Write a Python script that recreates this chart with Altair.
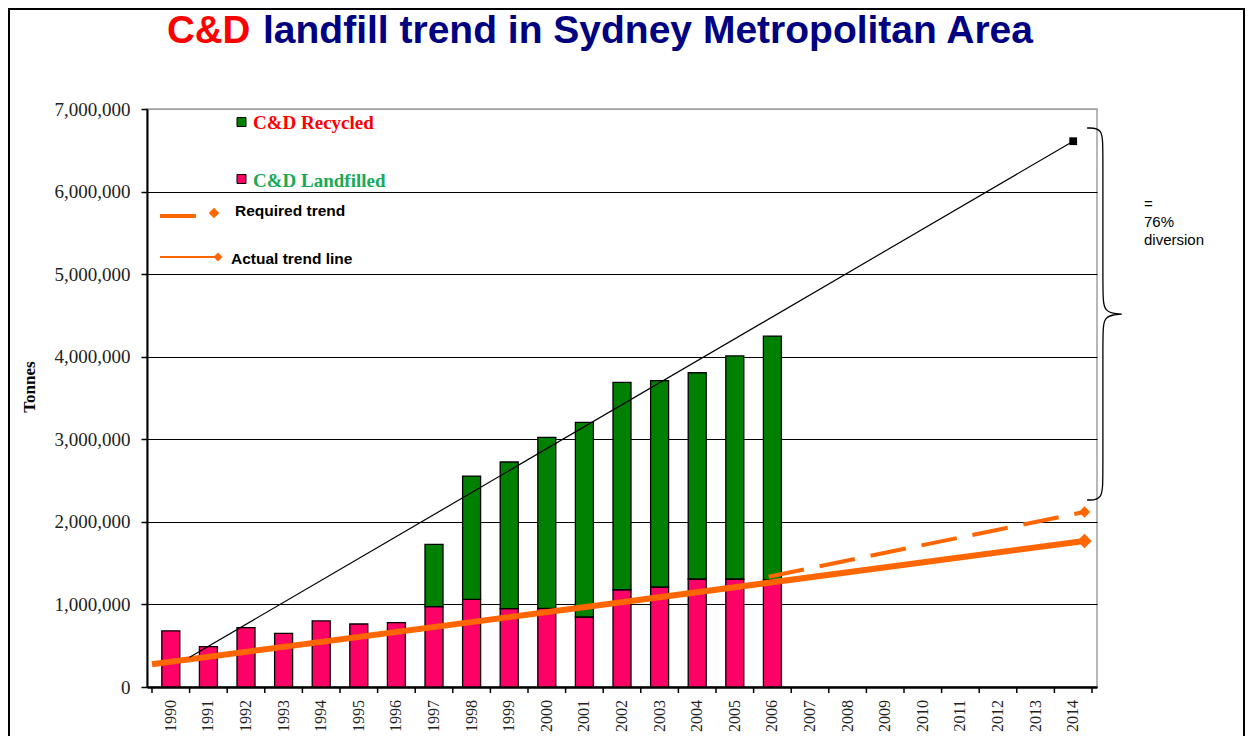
import altair as alt
import pandas as pd

# ---------------- data ----------------
years = list(range(1990, 2015))
bar_years = list(range(1990, 2007))
landfilled = [680000, 490000, 718000, 650000, 800000, 763000, 779000, 973000,
              1062000, 948000, 953000, 848000, 1178000, 1211000, 1308000,
              1308000, 1296000]
recycled = [0, 0, 0, 0, 0, 0, 0, 755000, 1493000, 1777000, 2071000, 2358000,
            2512000, 2499000, 2498000, 2701000, 2954000]

total_line_x = [1990.5, 2014.0]
total_line_y = [360000, 6610000]
actual_x = [1989.5, 2014.3]
actual_y = [275000, 1768000]
required_x = [2005.9, 2014.3]
required_y = [1336000, 2120000]

brace_x = [2014.37, 2014.79, 2014.79, 2014.79, 2014.79, 2015.29, 2015.29, 2015.29,
           2014.79, 2014.79, 2014.79, 2014.79, 2014.37]
brace_y = [6770000, 6770000, 6500000, 4800000, 4530000, 4517000, 4517000, 4517000,
           4500000, 4250000, 2550000, 2265000, 2265000]

y_ticks = [0, 1000000, 2000000, 3000000, 4000000, 5000000, 6000000, 7000000]
boundaries = [y - 0.5 for y in years] + [2014.5]

ORANGE = "#FF6600"
PINK = "#FF0066"
GREEN = "#008000"

bars = pd.DataFrame({"year": bar_years, "landfilled": landfilled, "recycled": recycled})
bars["total"] = bars["landfilled"] + bars["recycled"]

xs = alt.Scale(domain=[1989.5, 2014.5], nice=False, zero=False)
ys = alt.Scale(domain=[0, 7000000], nice=False)

x_axis = alt.Axis(values=years, labels=False, ticks=False, grid=False,
                  domainColor="black", domainWidth=2.5, title=None)
y_axis = alt.Axis(values=y_ticks, format=",d", grid=True,
                  gridColor={"condition": {"test": "datum.value >= 7000000", "value": "#a0a0a0"},
                             "value": "black"},
                  gridWidth=1, domainColor="black", domainWidth=2, tickColor="black",
                  tickSize=6, tickWidth=1.5, labelPadding=11,
                  labelFont="Liberation Serif", labelFontSize=19, labelColor="#222",
                  title=None)

X = alt.X("year:Q", scale=xs, axis=x_axis)

land = alt.Chart(bars).mark_bar(size=18, color=PINK, stroke="black", strokeWidth=1.3).encode(
    x=X, y=alt.Y("landfilled:Q", scale=ys, axis=y_axis))
rec = alt.Chart(bars).transform_filter("datum.recycled > 0").mark_bar(
    size=18, color=GREEN, stroke="black", strokeWidth=1.3).encode(
    x=alt.X("year:Q"), y=alt.Y("total:Q"), y2="landfilled:Q")

ticks = alt.Chart(pd.DataFrame({"year": boundaries})).mark_rule(color="black", strokeWidth=1.5).encode(
    x="year:Q", y=alt.value(578), y2=alt.value(584))

xlabels = alt.Chart(pd.DataFrame({"year": years})).transform_calculate(
    lab="toString(datum.year)").mark_text(
    angle=270, align="right", baseline="middle", font="Liberation Serif", fontSize=16,
    color="#222").encode(x="year:Q", y=alt.value(591), text="lab:N")

actual = alt.Chart(pd.DataFrame({"year": actual_x, "t": actual_y}))
actual_line = actual.mark_line(color=ORANGE, strokeWidth=6).encode(x="year:Q", y="t:Q")
actual_pt = actual.transform_filter("datum.year > 2010").mark_point(
    shape="diamond", filled=True, color=ORANGE, size=210, opacity=1).encode(x="year:Q", y="t:Q")

req = alt.Chart(pd.DataFrame({"year": required_x, "t": required_y}))
req_line = req.mark_line(color=ORANGE, strokeWidth=4, strokeDash=[36, 16]).encode(x="year:Q", y="t:Q")
req_pt = req.transform_filter("datum.year > 2010").mark_point(
    shape="diamond", filled=True, color=ORANGE, size=130, opacity=1).encode(x="year:Q", y="t:Q")

tot = alt.Chart(pd.DataFrame({"year": total_line_x, "t": total_line_y}))
tot_line = tot.mark_line(color="black", strokeWidth=1.2).encode(x="year:Q", y="t:Q")
tot_pt = tot.transform_filter("datum.year > 2010").mark_square(
    color="black", size=60, opacity=1).encode(x="year:Q", y="t:Q")

brace = alt.Chart(pd.DataFrame({"year": brace_x, "t": brace_y, "i": list(range(len(brace_x)))})).mark_line(
    color="black", strokeWidth=1.3, interpolate="basis", clip=False).encode(
    x="year:Q", y="t:Q", order="i:Q")

one = pd.DataFrame({"k": [0]})


def txt(text, x, y, **kw):
    return alt.Chart(one).mark_text(text=text, **kw).encode(x=alt.value(x), y=alt.value(y))


title1 = txt("C&D", 20, -78, font="Liberation Sans", fontSize=38.5, fontWeight="bold",
             color="#FF0000", align="left", baseline="middle")
title2 = txt("landfill trend in Sydney Metropolitan Area", 116, -78, font="Liberation Sans",
             fontSize=39, fontWeight="bold", color="#000080", align="left", baseline="middle")
ytitle = txt("Tonnes", -117, 278, font="Liberation Serif", fontSize=17, fontWeight="bold",
             color="black", angle=270, align="center", baseline="middle")

leg_sq1 = alt.Chart(one).mark_square(size=81, color=GREEN, stroke="black", strokeWidth=1, opacity=1).encode(
    x=alt.value(94.5), y=alt.value(13))
leg_sq2 = alt.Chart(one).mark_square(size=81, color=PINK, stroke="black", strokeWidth=1, opacity=1).encode(
    x=alt.value(94.5), y=alt.value(70))
leg_t1 = txt("C&D Recycled", 106, 14, font="Liberation Serif", fontSize=19, fontWeight="bold",
             color="#FF0000", align="left", baseline="middle")
leg_t2 = txt("C&D Landfilled", 106, 72, font="Liberation Serif", fontSize=19, fontWeight="bold",
             color="#1AAA55", align="left", baseline="middle")
leg_l1 = alt.Chart(one).mark_rule(color=ORANGE, strokeWidth=4).encode(
    x=alt.value(13), x2=alt.value(49), y=alt.value(107))
leg_d1 = alt.Chart(one).mark_point(shape="diamond", filled=True, color=ORANGE, size=110, opacity=1).encode(
    x=alt.value(67), y=alt.value(104))
leg_t3 = txt("Required trend", 88, 102, font="Liberation Sans", fontSize=15.5, fontWeight="bold",
             color="black", align="left", baseline="middle")
leg_l2 = alt.Chart(one).mark_rule(color=ORANGE, strokeWidth=2).encode(
    x=alt.value(13), x2=alt.value(70), y=alt.value(148))
leg_d2 = alt.Chart(one).mark_point(shape="diamond", filled=True, color=ORANGE, size=80, opacity=1).encode(
    x=alt.value(71), y=alt.value(148))
leg_t4 = txt("Actual trend line", 84, 150, font="Liberation Sans", fontSize=15.5, fontWeight="bold",
             color="black", align="left", baseline="middle")

div_t = alt.Chart(pd.DataFrame({"s": ["=", "76%", "diversion"], "dy": [95, 113, 131]})).mark_text(
    font="Liberation Sans", fontSize=15, color="black", align="left", baseline="middle").encode(
    x=alt.value(997), y=alt.Y("dy:Q", scale=None), text="s:N")

frame = alt.Chart(one).mark_rect(fill=None, stroke="black", strokeWidth=2, clip=False).encode(
    x=alt.value(-138), x2=alt.value(1097), y=alt.value(-100), y2=alt.value(700))

chart = alt.layer(
    frame, land, rec, ticks, xlabels, actual_line, req_line, actual_pt, req_pt, tot_line, tot_pt,
    brace, title1, title2, ytitle, leg_sq1, leg_sq2, leg_t1, leg_t2, leg_l1, leg_d1, leg_t3,
    leg_l2, leg_d2, leg_t4, div_t
).properties(
    width=950, height=578,
    autosize=alt.AutoSizeParams(type="none"),
    padding={"left": 139, "top": 101, "right": 150, "bottom": 49},
    background="white",
).configure_view(stroke="#a0a0a0", strokeWidth=1.5)

chart.save("out.html", embed_options={"renderer": "svg", "actions": False})
